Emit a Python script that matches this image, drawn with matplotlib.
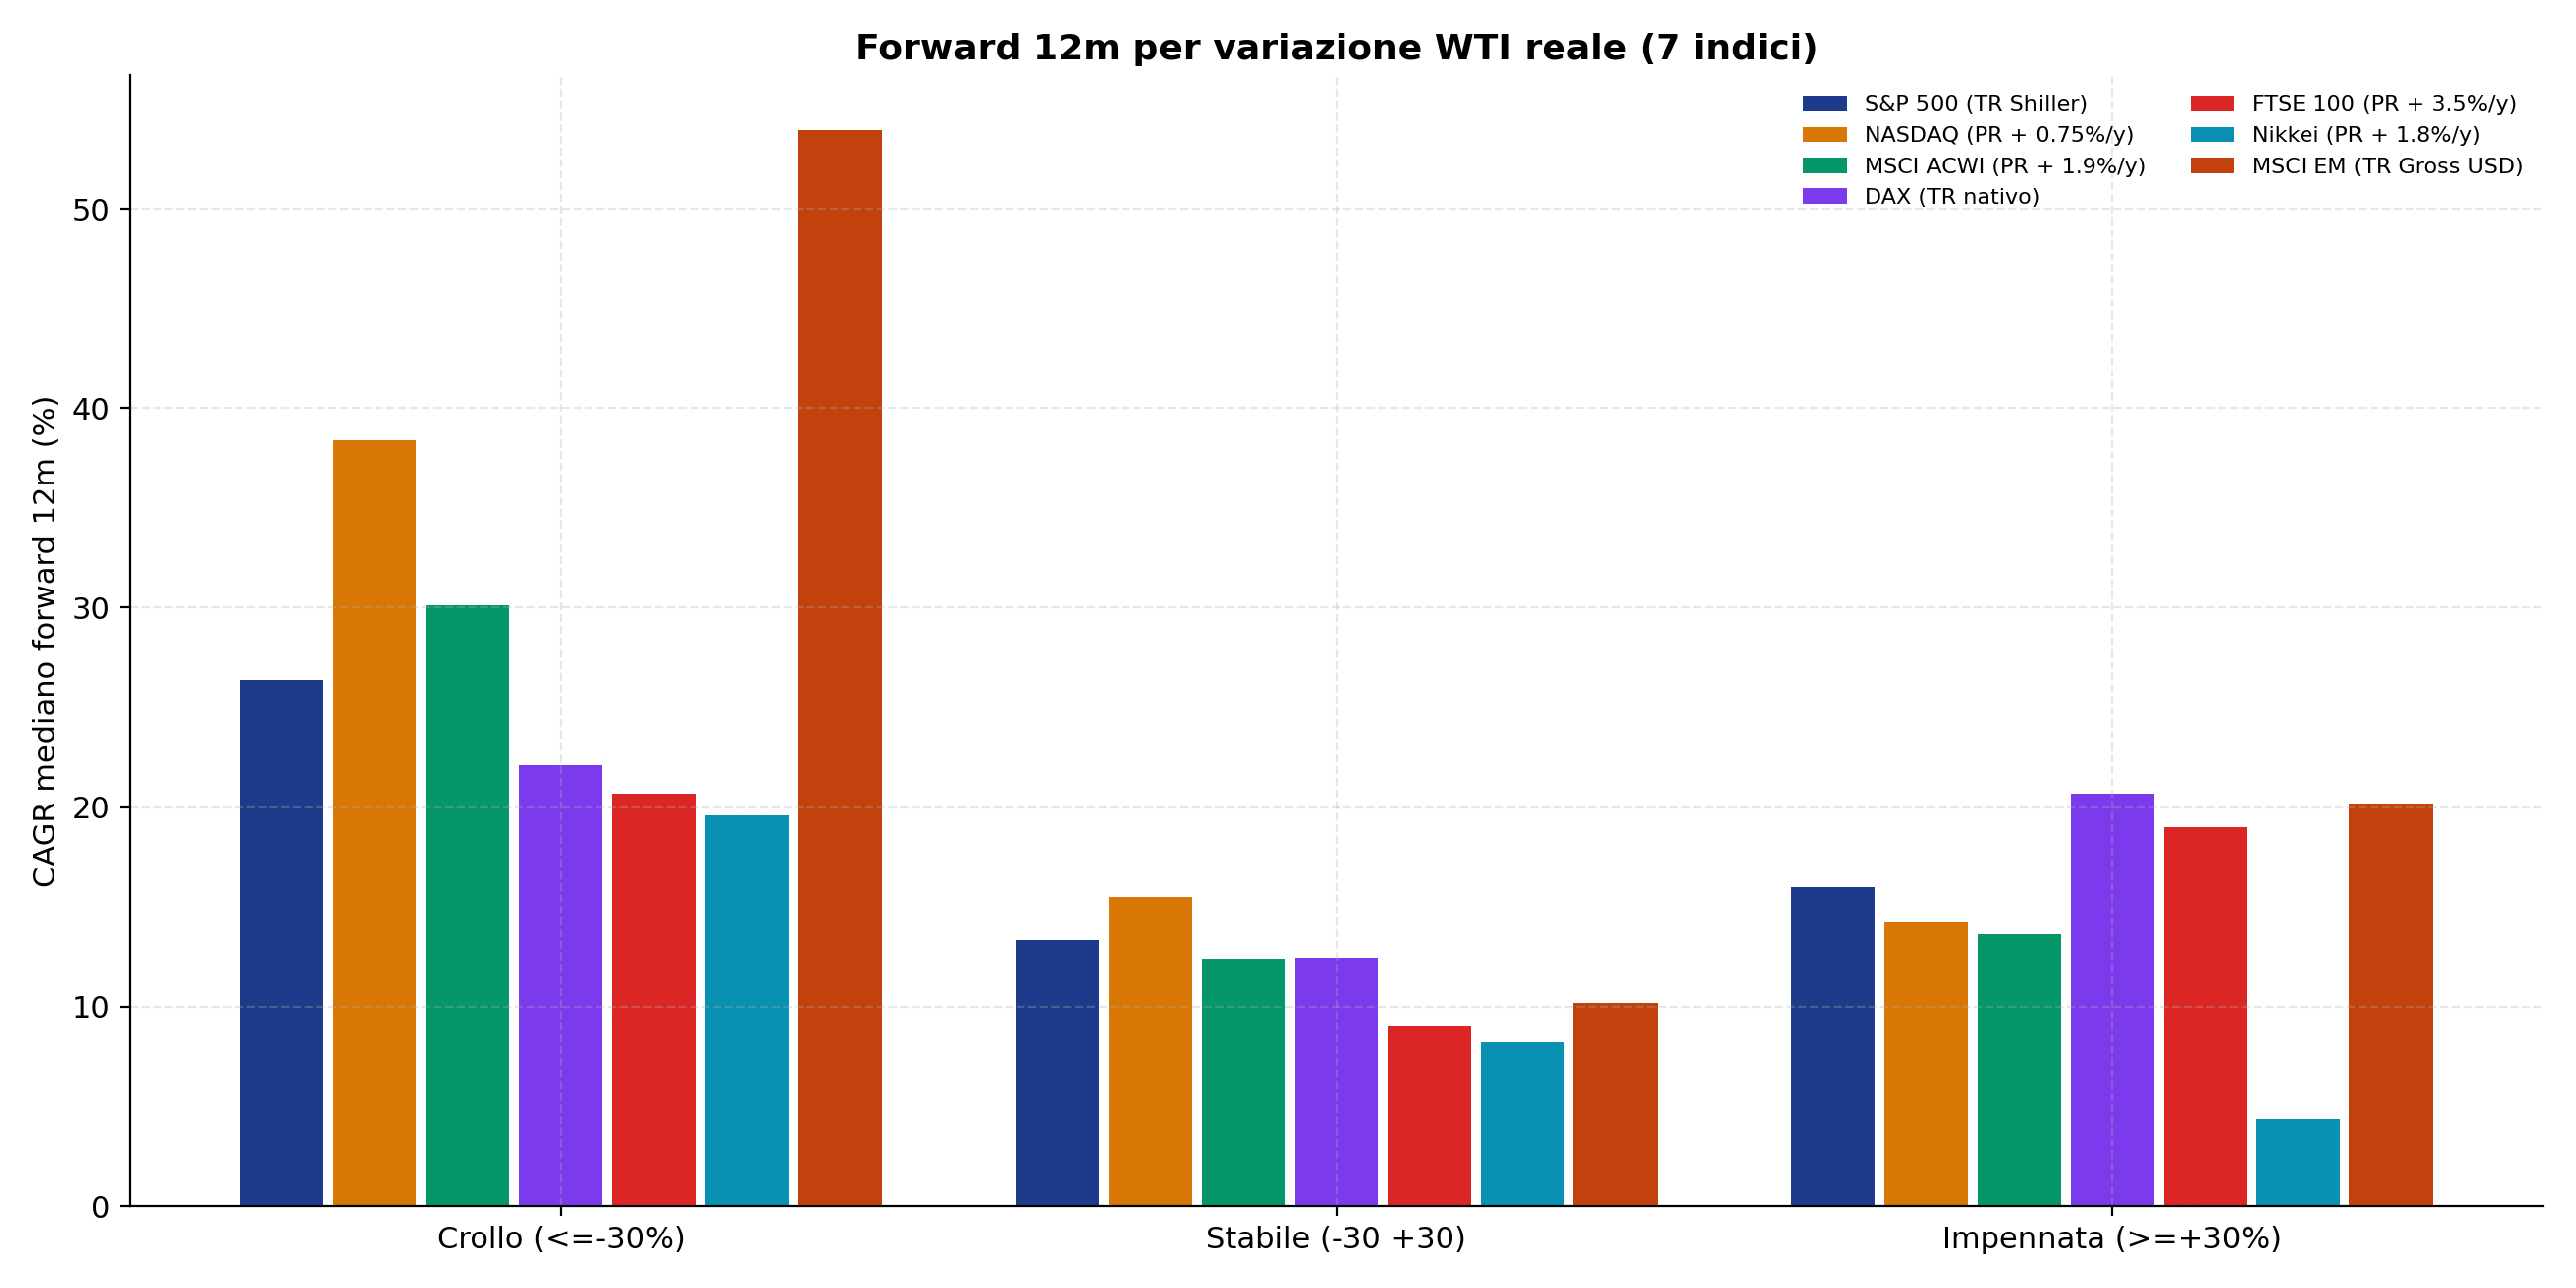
import numpy as np
import matplotlib.pyplot as plt

# Categories (WTI real change buckets)
categories = ['Crollo (<=-30%)', 'Stabile (-30 +30)', 'Impennata (>=+30%)']

# Series: median forward 12m CAGR (%) per index
series_names = [
    'S&P 500 (TR Shiller)',
    'NASDAQ (PR + 0.75%/y)',
    'MSCI ACWI (PR + 1.9%/y)',
    'DAX (TR nativo)',
    'FTSE 100 (PR + 3.5%/y)',
    'Nikkei (PR + 1.8%/y)',
    'MSCI EM (TR Gross USD)',
]
sp500 = [26.4, 13.3, 16.0]
nasdaq = [38.4, 15.5, 14.2]
acwi = [30.1, 12.4, 13.6]
dax = [22.1, 12.45, 20.7]
ftse = [20.7, 9.0, 19.0]
nikkei = [19.6, 8.2, 4.4]
msci_em = [54.0, 10.2, 20.2]
series_values = [sp500, nasdaq, acwi, dax, ftse, nikkei, msci_em]

colors = ['#1e3a8a', '#d97706', '#059669', '#7c3aed', '#dc2626', '#0891b2', '#c2410c']

fig, ax = plt.subplots(figsize=(13, 6.5), dpi=200)

x = np.arange(len(categories))
step = 0.12
width = 0.108
n = len(series_names)
for i, (name, vals) in enumerate(zip(series_names, series_values)):
    offset = (i - (n - 1) / 2) * step
    ax.bar(x + offset, vals, width, color=colors[i], label=name, zorder=1)

ax.set_xticks(x)
ax.set_xticklabels(categories, fontsize=11)
ax.tick_params(axis='y', labelsize=11)
ax.set_ylabel('CAGR mediano forward 12m (%)', fontsize=11)
ax.set_title('Forward 12m per variazione WTI reale (7 indici)', fontsize=13, fontweight='bold')
ax.grid(True, linestyle='--', alpha=0.3)
ax.spines['top'].set_visible(False)
ax.spines['right'].set_visible(False)
ax.legend(ncol=2, fontsize=8, frameon=False, loc='upper right')

fig.subplots_adjust(left=0.0504, right=0.9872, top=0.9413, bottom=0.0638)
plt.savefig('out.png')
